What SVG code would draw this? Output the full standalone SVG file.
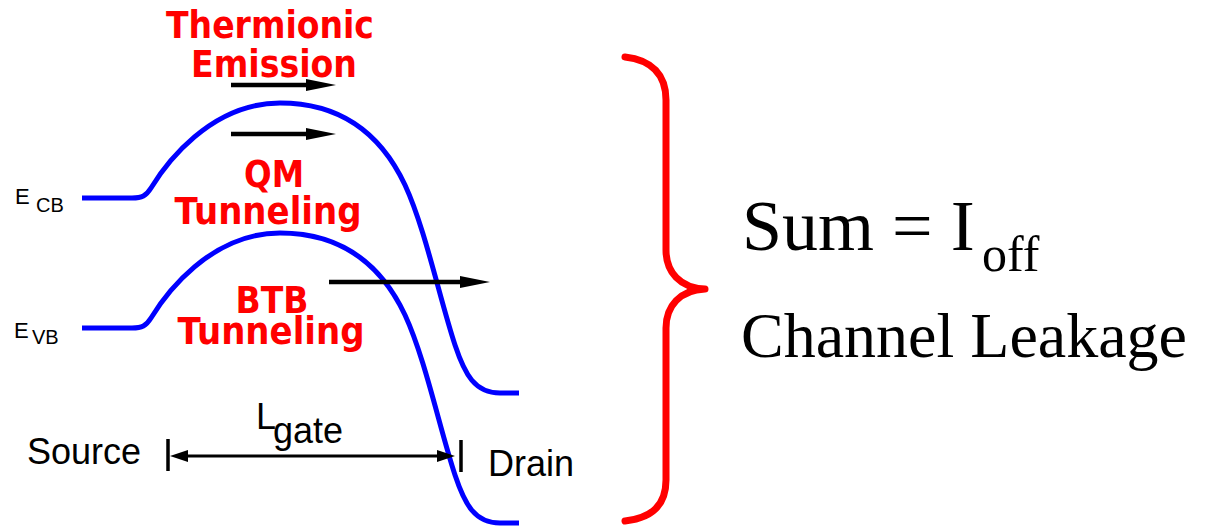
<svg xmlns="http://www.w3.org/2000/svg" width="1206" height="527" viewBox="0 0 1206 527">
  <defs>
    <style>
      .band { fill: none; stroke: #0000ff; stroke-width: 5; stroke-linejoin: round; }
      .mech { font-family: "DejaVu Sans", "Liberation Sans", sans-serif; font-weight: bold; font-size: 37px; fill: #ff0000; text-anchor: middle; }
      .lbl { font-family: "Liberation Sans", Arial, sans-serif; fill: #000000; }
      .serif { font-family: "Liberation Serif", "Times New Roman", serif; fill: #000000; }
      .flow { stroke: #000000; stroke-width: 4.5; fill: none; marker-end: url(#head); }
      .dim { stroke: #000000; stroke-width: 3; fill: none; marker-start: url(#headSm); marker-end: url(#headSm); }
      .tick { stroke: #000000; stroke-width: 3.5; }
    </style>
    <marker id="head" viewBox="0 0 30 12" markerWidth="30" markerHeight="12" refX="2" refY="6" orient="auto" markerUnits="userSpaceOnUse">
      <path d="M0,0 L30,6 L0,12 Z" fill="#000000"/>
    </marker>
    <marker id="headSm" viewBox="0 0 18 12" markerWidth="18" markerHeight="12" refX="1" refY="6" orient="auto-start-reverse" markerUnits="userSpaceOnUse">
      <path d="M0,0 L18,6 L0,12 Z" fill="#000000"/>
    </marker>
    <!-- barrier profile shared by both band edges -->
    <path id="barrier" d="M82,198 H132 C142,198 146,196 151,188 C165,165 210,103 280,103 C340,103 380,132 405,185 C425,228 440,300 455,345 C465,375 475,393 500,393 H519"/>
  </defs>

  <rect width="1206" height="527" fill="#ffffff"/>

  <!-- conduction band edge -->
  <g id="conduction-band">
    <use href="#barrier" class="band"/>
    <text class="lbl" x="15" y="204" font-size="22">E</text>
    <text class="lbl" x="36" y="212" font-size="20">CB</text>
  </g>

  <!-- valence band edge -->
  <g id="valence-band">
    <use href="#barrier" class="band" transform="translate(0,130)"/>
    <text class="lbl" x="14" y="338" font-size="22">E</text>
    <text class="lbl" x="32" y="344" font-size="20">VB</text>
  </g>

  <g id="thermionic-label">
    <text class="mech" x="270" y="38" textLength="208" lengthAdjust="spacingAndGlyphs">Thermionic</text>
    <text class="mech" x="274" y="77" textLength="166" lengthAdjust="spacingAndGlyphs">Emission</text>
  </g>

  <g id="qm-label">
    <text class="mech" x="274" y="187" textLength="60" lengthAdjust="spacingAndGlyphs">QM</text>
    <text class="mech" x="268" y="224" textLength="187" lengthAdjust="spacingAndGlyphs">Tunneling</text>
  </g>

  <g id="btb-label">
    <text class="mech" x="272" y="313" textLength="73" lengthAdjust="spacingAndGlyphs">BTB</text>
    <text class="mech" x="271" y="344" textLength="187" lengthAdjust="spacingAndGlyphs">Tunneling</text>
  </g>

  <g id="source">
    <text class="lbl" x="27" y="464" font-size="36">Source</text>
  </g>

  <g id="drain">
    <text class="lbl" x="488" y="476" font-size="36">Drain</text>
  </g>

  <g id="gate-length">
    <text class="lbl" x="256" y="429" font-size="36">L</text>
    <text class="lbl" x="273" y="443" font-size="36">gate</text>
    <line class="tick" x1="168" y1="439" x2="168" y2="471"/>
    <line class="tick" x1="461" y1="440" x2="461" y2="472"/>
  </g>

  <!-- current paths and gate dimension -->
  <g id="connectors">
    <line class="flow" x1="231" y1="85" x2="308" y2="85"/>
    <line class="flow" x1="231" y1="134" x2="308" y2="134"/>
    <line class="flow" x1="329" y1="282" x2="462" y2="282"/>
    <line class="dim" x1="187" y1="456" x2="438" y2="456"/>
  </g>

  <g id="brace">
    <path d="M625,57 C652,60 666,75 666,100 V250 C666,272 680,288 705,289 C680,290 666,306 666,328 V480 C666,505 652,518 625,521" fill="none" stroke="#ff0000" stroke-width="7" stroke-linecap="round" stroke-linejoin="round"/>
  </g>

  <g id="summary">
    <text class="serif" x="742" y="250" font-size="72">Sum = I</text>
    <text class="serif" x="982" y="271" font-size="50">off</text>
    <text class="serif" x="741" y="357" font-size="64">Channel Leakage</text>
  </g>
</svg>
